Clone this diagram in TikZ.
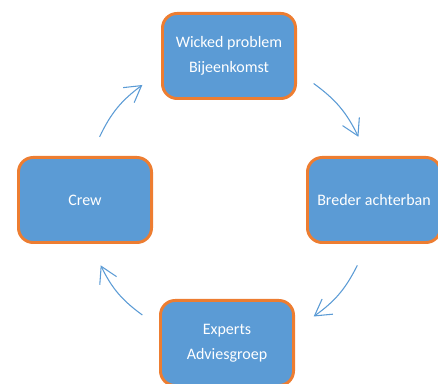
\documentclass[tikz,border=0pt]{standalone}
\usepackage{fontspec}
\setmainfont{Carlito}
\usetikzlibrary{arrows.meta,calc}

\definecolor{stageblue}{RGB}{91,155,213}
\definecolor{stageorange}{RGB}{237,125,49}

\begin{document}
\begin{tikzpicture}[x=0.75pt,y=0.75pt,
  stage/.style={draw=stageorange,line width=2.2pt,fill=stageblue,rounded corners=11pt,
    minimum width=99.8pt,minimum height=63.8pt,align=center,text=white,
    font=\fontsize{12}{18.75}\selectfont},
  turn/.style={-{Straight Barb[length=12pt,width=14pt]},color=stageblue,line width=0.8pt}]

\useasboundingbox (0,0) rectangle (438,384);

\def\r{144}
\coordinate (hub) at (229,184);

\node[stage] (wicked) at (229,328) {Wicked problem\\Bijeenkomst};
\node[stage] (breder) at (374,184) {Breder achterban};
\node[stage] (experts) at (227,41) {Experts\\Adviesgroep};
\node[stage] (crew) at (85,184) {Crew};

% pijlen op de cirkel rond het midden
\foreach \s/\e [count=\i] in {54/26,-27/-54,-127/-153,154/127}{
  \coordinate (s\i) at ($(hub)+(\s:\r)$);
  \coordinate (e\i) at ($(hub)+(\e:\r)$);
  \draw[turn] (s\i) to[bend left=14] (e\i);
}

\end{tikzpicture}
\end{document}
